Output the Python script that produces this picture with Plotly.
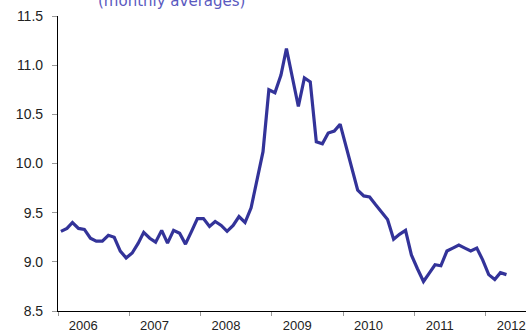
import plotly.graph_objects as go
import pandas as pd

# Monthly averages, Jan 2006 onwards
start_month = "2006-01-01"
values = [
    9.31, 9.34, 9.40, 9.34, 9.33, 9.24, 9.21, 9.21, 9.27, 9.25, 9.11, 9.04,
    9.09, 9.19, 9.30, 9.24, 9.20, 9.32, 9.19, 9.32, 9.29, 9.18, 9.31, 9.44,
    9.44, 9.36, 9.41, 9.37, 9.31, 9.37, 9.46, 9.40, 9.55, 9.83, 10.12, 10.75,
    10.72, 10.90, 11.17, 10.87, 10.58, 10.87, 10.83, 10.22, 10.20, 10.31, 10.33, 10.40,
    10.16, 9.93, 9.73, 9.67, 9.66, 9.58, 9.50, 9.43, 9.23, 9.28, 9.32, 9.07,
    8.93, 8.80, 8.88, 8.97, 8.96, 9.11, 9.14, 9.17, 9.14, 9.11, 9.14, 9.02,
    8.87, 8.82, 8.89, 8.87,
]
year_labels = ["2006", "2007", "2008", "2009", "2010", "2011", "2012"]
y_ticks = [8.5, 9.0, 9.5, 10.0, 10.5, 11.0, 11.5]
subtitle = "(monthly averages)"

dates = pd.date_range(start_month, periods=len(values), freq="MS") + pd.Timedelta(days=15)
label_pos = [f"{y}-05-10" for y in year_labels]

fig = go.Figure()
fig.add_trace(go.Scatter(
    x=dates, y=values, mode="lines",
    line=dict(color="#333399", width=3.2),
    showlegend=False, hoverinfo="skip",
))

fig.update_layout(
    width=526, height=334,
    margin=dict(l=58, r=0, t=16, b=23),
    paper_bgcolor="white", plot_bgcolor="white",
    font=dict(family="Liberation Sans, Arial, sans-serif", color="#222222"),
)
fig.update_xaxes(
    type="date",
    range=["2006-01-01", "2012-07-25"],
    tickmode="array", tickvals=label_pos, ticktext=year_labels,
    ticks="", showgrid=False, zeroline=False,
    showline=True, linecolor="black", linewidth=1.2,
    tickfont=dict(size=13, color="#222222"),
    ticklabelstandoff=2, ticklabeloverflow="allow",
    minor=dict(ticks="outside", tick0="2006-01-01", dtick="M12",
               ticklen=4, tickcolor="#999999", tickwidth=1, showgrid=False),
    automargin=False,
)
fig.update_yaxes(
    range=[8.5, 11.5],
    tickmode="array", tickvals=y_ticks, tickformat=".1f",
    ticks="outside", ticklen=5, tickcolor="#999999",
    showgrid=False, zeroline=False,
    showline=True, linecolor="black", linewidth=1.2,
    tickfont=dict(size=14, color="#222222"),
    ticklabelstandoff=6, ticklabeloverflow="allow",
    automargin=False,
)
fig.add_annotation(
    text=subtitle, xref="paper", yref="paper", x=0.2415, y=1,
    xanchor="center", yanchor="bottom", yshift=4, showarrow=False,
    font=dict(family="DejaVu Sans", size=15, color="#5a5abf"),
)

fig.write_html(
    "out.html",
    config={"displayModeBar": False},
    post_script="document.body.style.margin='0';document.body.style.overflow='hidden';",
)
